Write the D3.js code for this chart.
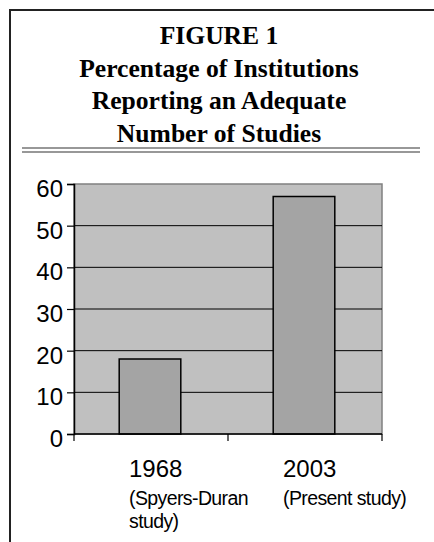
<!DOCTYPE html>
<html>
<head>
<meta charset="utf-8">
<script src="https://cdn.jsdelivr.net/npm/d3@7"></script>
<style>
  body { margin: 0; background: #fff; }
  svg { display: block; }
</style>
</head>
<body>
<svg id="chart" width="434" height="542"></svg>
<script>
/* global d3 */

const titleLines = ['FIGURE 1', 'Percentage of Institutions', 'Reporting an Adequate', 'Number of Studies'];
const years = ['1968', '2003'];
const notes = [['(Spyers-Duran', 'study)'], ['(Present study)']];
const values = [18, 57];
const yTicks = [0, 10, 20, 30, 40, 50, 60];

const svg = d3.select('#chart');

// outer frame, only top and left edges are inside the picture
svg.append('path')
  .attr('d', 'M10,560 L10,10 L460,10')
  .attr('fill', 'none')
  .attr('stroke', '#222')
  .attr('stroke-width', 2);

svg.selectAll('text.title').data(titleLines).enter().append('text')
  .attr('class', 'title')
  .attr('x', 219)
  .attr('y', (d, i) => 44 + i * 32.7)
  .attr('text-anchor', 'middle')
  .attr('font-family', 'Liberation Serif, Times New Roman, serif')
  .attr('font-weight', 'bold')
  .attr('font-size', 25.6)
  .attr('fill', '#000')
  .text((d) => d);

// double rule under the title
[148, 152].forEach((yy) => {
  svg.append('line')
    .attr('x1', 22).attr('x2', 420)
    .attr('y1', yy).attr('y2', yy)
    .attr('stroke', '#333')
    .attr('stroke-width', 1.2);
});

const plotL = 74, plotR = 382, plotT = 184, plotB = 434;

const x = d3.scaleBand().domain(years).range([plotL, plotR]);
const y = d3.scaleLinear().domain([0, 60]).range([plotB, plotT]);

svg.append('rect')
  .attr('x', plotL).attr('y', plotT)
  .attr('width', plotR - plotL).attr('height', plotB - plotT)
  .attr('fill', '#c0c0c0')
  .attr('stroke', '#808080')
  .attr('stroke-width', 1.5);

svg.selectAll('line.grid').data(yTicks.filter((t) => t > 0 && t < 60)).enter().append('line')
  .attr('class', 'grid')
  .attr('x1', plotL).attr('x2', plotR)
  .attr('y1', (d) => y(d)).attr('y2', (d) => y(d))
  .attr('stroke', '#000')
  .attr('stroke-width', 1);

const barW = x.bandwidth() * 0.4;
svg.selectAll('rect.bar').data(values).enter().append('rect')
  .attr('class', 'bar')
  .attr('x', (d, i) => x(years[i]) + x.bandwidth() / 2 - 1 - barW / 2)
  .attr('y', (d) => y(d))
  .attr('width', barW)
  .attr('height', (d) => plotB - y(d))
  .attr('fill', '#a4a4a4')
  .attr('stroke', '#000')
  .attr('stroke-width', 1.5);

// y axis
const yAxis = svg.append('g')
  .attr('transform', `translate(${plotL},0)`)
  .call(d3.axisLeft(y).tickValues(yTicks).tickSize(7).tickPadding(4));
yAxis.select('.domain').attr('stroke', '#000').attr('stroke-width', 1.5);
yAxis.selectAll('.tick line').attr('stroke', '#000').attr('stroke-width', 1.2);
yAxis.selectAll('.tick text')
  .attr('font-family', 'Liberation Sans, Arial, sans-serif')
  .attr('font-size', 24)
  .attr('fill', '#000')
  .attr('dy', '0.52em');

// x axis with ticks at the band edges
const xAxis = svg.append('g')
  .attr('transform', `translate(0,${plotB})`);
xAxis.append('line')
  .attr('x1', plotL).attr('x2', plotR)
  .attr('stroke', '#000').attr('stroke-width', 1.5);
xAxis.selectAll('line.tk').data([plotL, ...years.map((c) => x(c) + x.bandwidth())]).enter().append('line')
  .attr('class', 'tk')
  .attr('x1', (d) => d).attr('x2', (d) => d)
  .attr('y1', 0).attr('y2', 7)
  .attr('stroke', '#000').attr('stroke-width', 1.2);

const labels = svg.selectAll('g.lab').data(years).enter().append('g')
  .attr('class', 'lab')
  .attr('transform', (d) => `translate(${x(d) + x.bandwidth() / 2 - 22},0)`);

labels.append('text')
  .attr('y', 477)
  .attr('font-family', 'Liberation Sans, Arial, sans-serif')
  .attr('font-size', 24)
  .attr('fill', '#000')
  .text((d) => d);

labels.each(function (d, i) {
  d3.select(this).selectAll('text.note').data(notes[i]).enter().append('text')
    .attr('class', 'note')
    .attr('y', (n, k) => 505 + k * 23)
    .attr('font-family', 'Liberation Sans, Arial, sans-serif')
    .attr('font-size', 19.5)
    .attr('letter-spacing', -0.6)
    .attr('fill', '#000')
    .text((n) => n);
});
</script>
</body>
</html>
